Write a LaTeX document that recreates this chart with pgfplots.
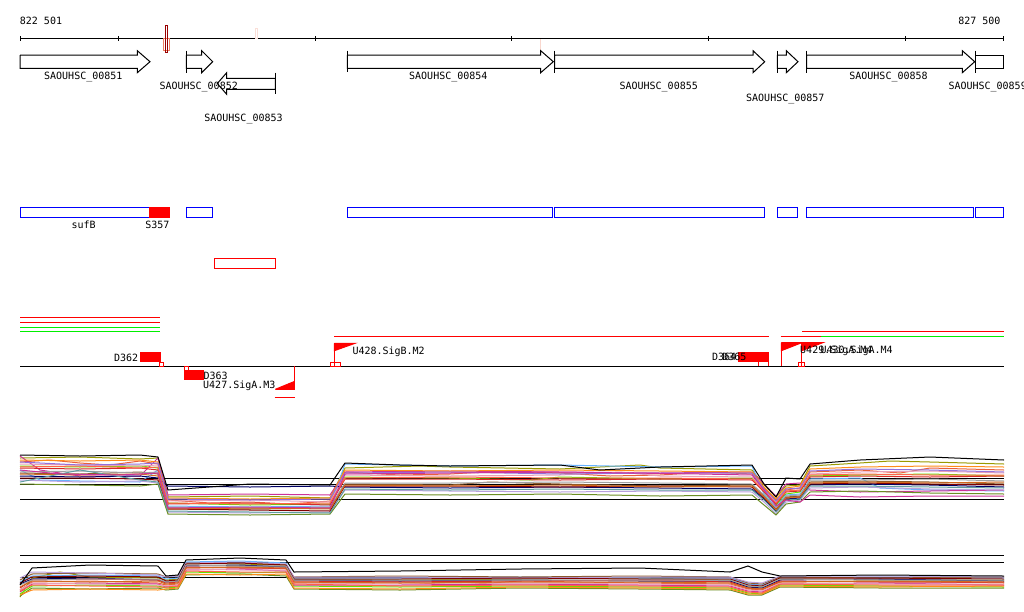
\documentclass[border=0pt]{standalone}
\usepackage{fontspec}
\setmainfont{DejaVu Sans Mono}
\usepackage{pgfplots}
\pgfplotsset{compat=1.18}
\definecolor{cA}{HTML}{E8603C}
\definecolor{cB}{HTML}{9A9A00}
\definecolor{cC}{HTML}{66E000}
\definecolor{cD}{HTML}{66B3FF}
\definecolor{cE}{HTML}{CC3399}
\definecolor{cF}{HTML}{8B5A2B}
\definecolor{cG}{HTML}{E8A0B8}
\definecolor{cH}{HTML}{000066}
\definecolor{cI}{HTML}{D42A2A}
\definecolor{cJ}{HTML}{B9A0DC}
\definecolor{cK}{HTML}{FF8C1A}
\definecolor{cL}{HTML}{A0A0A0}
\definecolor{cM}{HTML}{800000}
\definecolor{cN}{HTML}{D2691E}
\definecolor{cO}{HTML}{6B8E23}
\definecolor{cP}{HTML}{FF6347}
\definecolor{cQ}{HTML}{5F9EA0}
\definecolor{cR}{HTML}{9370DB}
\definecolor{featRed}{HTML}{FF0000}
\definecolor{featBlue}{HTML}{0000FF}
\definecolor{featGreen}{HTML}{00EE00}
\tikzset{lbl/.style={inner sep=0pt, font=\fontsize{10}{12}\selectfont}}

\begin{document}
\begin{tikzpicture}
\begin{axis}[
  at={(0,0)}, anchor=south west,
  width=1024pt, height=611pt, scale only axis,
  xmin=0, xmax=1024, ymin=0, ymax=611,
  y dir=reverse, hide axis, clip=false,
  every axis plot/.append style={line width=1pt, no markers},
  unbounded coords=jump,
]
% --- ruler ---
\addplot[black] coordinates {(20,38.3) (1004,38.3)};
\addplot[black] coordinates {(20.5,36)(20.5,41)(20,nan)(118.3,36)(118.3,41)(118,nan)(315,36)(315,41)(315,nan)
  (511.7,36)(511.7,41)(511,nan)(708.3,36)(708.3,41)(708,nan)(905.3,36)(905.3,41)(905,nan)(1003.5,36)(1003.5,41)};
\node[lbl, anchor=base west] at (axis cs:19.7,24.3) {822 501};
\node[lbl, anchor=base east] at (axis cs:1000.7,24.3) {827 500};
\addplot[color=cA!80, line width=1pt] coordinates {(163.3,38)(169.7,38)(169.7,50)(163.3,50)(163.3,38)};
\addplot[color=cM!80!red, line width=1pt] coordinates {(165.3,25)(167.3,25)(167.3,52)(165.3,52)(165.3,25)};
\addplot[color=cA!20, line width=1pt] coordinates {(255.5,28)(257.2,28)(257.2,38)(255.5,38)(255.5,28)};
\addplot[color=cA!25, line width=1.5pt] coordinates {(540.5,39)(540.5,50)};

% --- genes ---
\addplot[black, fill=white] coordinates {(20,55)(137.3,55)(137.3,50.7)(150,61.7)(137.3,72.7)(137.3,68.3)(20,68.3)(20,55)};
\addplot[black, fill=white] coordinates {(186.3,55)(201.7,55)(201.7,50.7)(212.7,61.7)(201.7,72.7)(201.7,68.3)(186.3,68.3)(186.3,55)};
\addplot[black, fill=white] coordinates {(275.3,78.3)(226.7,78.3)(226.7,72.7)(217.3,83.5)(226.7,94.3)(226.7,89.3)(275.3,89.3)(275.3,78.3)};
\addplot[black, fill=white] coordinates {(347.3,55)(540.7,55)(540.7,50.7)(553.3,61.7)(540.7,72.7)(540.7,68.3)(347.3,68.3)(347.3,55)};
\addplot[black, fill=white] coordinates {(554.7,55)(753,55)(753,50.7)(764.7,61.7)(753,72.7)(753,68.3)(554.7,68.3)(554.7,55)};
\addplot[black, fill=white] coordinates {(777.3,55)(786.3,55)(786.3,50.7)(798,61.7)(786.3,72.7)(786.3,68.3)(777.3,68.3)(777.3,55)};
\addplot[black, fill=white] coordinates {(806.7,55)(962.3,55)(962.3,50.7)(974.7,61.7)(962.3,72.7)(962.3,68.3)(806.7,68.3)(806.7,55)};
\addplot[black, fill=white] coordinates {(975.7,55)(1003.3,55)(1003.3,68.3)(975.7,68.3)(975.7,55)};
\addplot[black] coordinates {(186.3,50.7)(186.3,72.7)(186,nan)(275.3,72.7)(275.3,94.3)(275,nan)(347.3,50.7)(347.3,71.7)(347,nan)
  (554.7,50.7)(554.7,72.7)(554,nan)(777.3,50.7)(777.3,72.7)(777,nan)(806.7,50.7)(806.7,72.7)(806,nan)(975.7,50.7)(975.7,72.7)};
\node[lbl, anchor=base] at (axis cs:83.3,79.5) {SAOUHSC\_00851};
\node[lbl, anchor=base] at (axis cs:198.7,89.3) {SAOUHSC\_00852};
\node[lbl, anchor=base] at (axis cs:243.5,121.5) {SAOUHSC\_00853};
\node[lbl, anchor=base] at (axis cs:448.3,79.5) {SAOUHSC\_00854};
\node[lbl, anchor=base] at (axis cs:658.7,89.3) {SAOUHSC\_00855};
\node[lbl, anchor=base] at (axis cs:785.3,101.5) {SAOUHSC\_00857};
\node[lbl, anchor=base] at (axis cs:888.5,79.5) {SAOUHSC\_00858};
\node[lbl, anchor=base west] at (axis cs:948.3,89.3) {SAOUHSC\_00859};

% --- blue boxes ---
\addplot[featBlue] coordinates {(20.3,207.3)(149,207.3)(149,217.3)(20.3,217.3)(20.3,207.3)};
\addplot[featRed, fill=featRed] coordinates {(149,207.3)(169,207.3)(169,217.3)(149,217.3)(149,207.3)};
\addplot[featBlue] coordinates {(186.3,207.3)(212.7,207.3)(212.7,217.3)(186.3,217.3)(186.3,207.3)};
\addplot[featBlue] coordinates {(347.3,207.3)(552.6,207.3)(552.6,217.3)(347.3,217.3)(347.3,207.3)};
\addplot[featBlue] coordinates {(554.3,207.3)(764.5,207.3)(764.5,217.3)(554.3,217.3)(554.3,207.3)};
\addplot[featBlue] coordinates {(777.3,207.3)(797.3,207.3)(797.3,217.3)(777.3,217.3)(777.3,207.3)};
\addplot[featBlue] coordinates {(806.1,207.3)(973.4,207.3)(973.4,217.3)(806.1,217.3)(806.1,207.3)};
\addplot[featBlue] coordinates {(975.1,207.3)(1003.5,207.3)(1003.5,217.3)(975.1,217.3)(975.1,207.3)};
\node[lbl, anchor=base] at (axis cs:83.7,228) {sufB};
\node[lbl, anchor=base] at (axis cs:157.3,228) {S357};
\addplot[featRed] coordinates {(214.3,258.3)(275.3,258.3)(275.3,268)(214.3,268)(214.3,258.3)};

% --- coverage lines ---
\addplot[featRed] coordinates {(20,317)(160,317)};
\addplot[featRed] coordinates {(20,322)(160,322)};
\addplot[featGreen] coordinates {(20,327)(160,327)};
\addplot[featGreen] coordinates {(20,331.3)(160,331.3)};
\addplot[featRed] coordinates {(334,336)(769,336)};
\addplot[featRed] coordinates {(780.7,336)(820.7,336)};
\addplot[featGreen] coordinates {(820.7,336)(1004,336)};
\addplot[featRed] coordinates {(802,331.3)(1004,331.3)};

% --- promoters / terminators ---
\addplot[black] coordinates {(20,366.3)(1004,366.3)};
\addplot[featRed, fill=featRed] coordinates {(140,352.7)(160,352.7)(160,361.7)(140,361.7)(140,352.7)};
\addplot[featRed] coordinates {(159.3,362)(163.3,362)(163.3,366.3)(159.3,366.3)(159.3,362)};
\node[lbl, anchor=base east] at (axis cs:138.3,361) {D362};
\addplot[featRed, fill=featRed] coordinates {(184.3,370.7)(203.3,370.7)(203.3,379.3)(184.3,379.3)(184.3,370.7)};
\addplot[featRed] coordinates {(184.3,366.3)(188.7,366.3)(188.7,370.7)(184.3,370.7)(184.3,366.3)};
\node[lbl, anchor=base west] at (axis cs:203.3,379) {D363};
\node[lbl, anchor=base west] at (axis cs:203,388.5) {U427.SigA.M3};
\addplot[featRed] coordinates {(294.3,366.3)(294.3,389.3)};
\addplot[featRed, fill=featRed] coordinates {(275.3,389.3)(294.3,389.3)(294.3,381.5)(275.3,389.3)};
\addplot[featRed] coordinates {(274.7,397.3)(294.7,397.3)};
\addplot[featRed] coordinates {(334.3,343.3)(334.3,366.3)};
\addplot[featRed, fill=featRed] coordinates {(334.3,343.3)(355,343.3)(334.3,350.7)(334.3,343.3)};
\addplot[featRed] coordinates {(330.3,362.3)(340.7,362.3)(340.7,366.3)(330.3,366.3)(330.3,362.3)};
\node[lbl, anchor=base west] at (axis cs:352.3,354.3) {U428.SigB.M2};
\addplot[featRed, fill=featRed] coordinates {(738.3,352.7)(768.7,352.7)(768.7,361.7)(738.3,361.7)(738.3,352.7)};
\addplot[featRed] coordinates {(758.3,361.7)(758.3,366.3)(758,nan)(768.3,361.7)(768.3,366.3)};
\node[lbl, anchor=base east] at (axis cs:736.3,360.7) {D364};
\node[lbl, anchor=base east] at (axis cs:746.7,360.7) {D365};
\addplot[featRed] coordinates {(781.3,342.7)(781.3,366.3)};
\addplot[featRed, fill=featRed] coordinates {(781.3,342.7)(801.7,342.7)(781.3,350.7)(781.3,342.7)};
\addplot[featRed] coordinates {(801.7,342.7)(801.7,366.3)};
\addplot[featRed, fill=featRed] coordinates {(801.7,342.7)(822.7,342.7)(801.7,350.7)(801.7,342.7)};
\addplot[featRed] coordinates {(798.3,362.3)(804.3,362.3)(804.3,366.3)(798.3,366.3)(798.3,362.3)};
\node[lbl, anchor=base west] at (axis cs:800,353.5) {U429.SigA.M4};
\node[lbl, anchor=base west] at (axis cs:820.3,353.5) {U430.SigA.M4};

% --- expression track 1 ---
\addplot[black] coordinates {(20,478.3)(1004,478.3)};
\addplot[black] coordinates {(20,484.3)(1004,484.3)};
\addplot[black] coordinates {(20,499.3)(1004,499.3)};
\addplot[cA] coordinates {(20,462)(50,460)(80,463)(110,465)(140,461)(158,464)(168,500)(210,503)(250,502)(290,504)(330,501)(345,472)(400,475)(450,474)(500,471)(560,473)(610,476)(660,475)(710,472)(752,474)(764,488)(776,500)(786,490)(800,488)(810,472)(860,470)(900,473)(930,468)(1004,470)};
\addplot[cB] coordinates {(20,458)(80,457)(140,459)(158,458)(168,497)(250,496)(330,498)(345,468)(420,466)(450,467)(560,469)(640,465)(660,468)(752,470)(764,485)(776,497)(786,486)(800,485)(810,466)(860,463)(890,461)(930,462)(1004,464)};
\addplot[cC] coordinates {(20,466)(80,467)(140,466)(158,468)(168,503)(250,505)(330,504)(345,477)(450,478)(530,480)(560,477)(660,479)(752,478)(764,492)(776,505)(786,494)(800,492)(810,476)(860,475)(930,474)(1004,476)};
\addplot[cD] coordinates {(20,470)(40,480)(80,481)(140,482)(158,470)(168,506)(250,507)(330,506)(345,464)(450,466)(560,465)(660,467)(752,466)(764,494)(776,507)(786,495)(800,494)(810,479)(860,478)(880,488)(930,490)(1004,491)};
\addplot[cE] coordinates {(20,456)(40,470)(80,476)(140,476)(158,458)(168,495)(250,494)(330,495)(345,472)(450,471)(560,472)(660,473)(752,472)(764,484)(776,496)(786,484)(800,483)(810,490)(860,492)(930,491)(1004,490)};
\addplot[cF] coordinates {(20,473)(80,474)(140,472)(158,474)(168,508)(250,509)(330,508)(345,484)(450,485)(490,482)(560,484)(660,486)(752,485)(764,496)(776,509)(786,497)(800,496)(810,482)(860,481)(930,482)(1004,484)};
\addplot[cG] coordinates {(20,464)(80,465)(140,466)(158,465)(168,501)(250,500)(330,502)(345,475)(450,476)(560,475)(620,472)(660,476)(752,477)(764,490)(776,502)(786,491)(800,490)(810,474)(860,472)(930,471)(1004,473)};
\addplot[cH] coordinates {(20,476)(80,477)(140,476)(158,478)(168,486)(250,487)(330,486)(345,487)(450,488)(560,487)(660,488)(752,489)(764,499)(776,511)(786,499)(800,498)(810,485)(860,484)(930,485)(1004,487)};
\addplot[cI] coordinates {(20,468)(80,469)(140,468)(158,470)(168,504)(250,503)(330,505)(345,479)(450,479)(560,480)(660,479)(752,480)(764,492)(776,504)(786,492)(800,491)(810,477)(860,476)(930,477)(1004,476)};
\addplot[cJ] coordinates {(20,480)(80,482)(140,481)(158,483)(168,512)(250,513)(330,512)(345,490)(450,491)(560,492)(660,491)(752,492)(764,502)(776,514)(786,502)(800,500)(810,488)(860,487)(930,489)(1004,490)};
\addplot[cK] coordinates {(20,460)(80,461)(140,460)(158,462)(168,498)(250,499)(330,498)(345,470)(450,471)(560,470)(660,471)(752,472)(764,487)(776,499)(786,488)(800,486)(810,469)(860,467)(930,466)(1004,467)};
\addplot[cL] coordinates {(20,472)(80,471)(140,473)(158,472)(168,507)(250,508)(330,507)(345,483)(450,483)(560,482)(660,483)(752,484)(764,495)(776,508)(786,496)(800,495)(810,480)(860,480)(930,479)(1004,481)};
\addplot[cM] coordinates {(20,478)(80,478)(140,479)(158,480)(168,509)(250,510)(330,511)(345,486)(450,486)(560,487)(660,486)(752,487)(764,498)(776,510)(786,498)(800,497)(810,484)(860,483)(930,484)(1004,485)};
\addplot[cN] coordinates {(20,474)(80,475)(140,474)(158,476)(168,509)(250,508)(330,509)(345,485)(450,486)(560,485)(660,487)(752,486)(764,497)(776,510)(786,498)(800,497)(810,483)(860,482)(930,483)(1004,482)};
\addplot[cO] coordinates {(20,484)(80,485)(140,486)(158,484)(168,514)(250,515)(330,514)(345,494)(450,495)(560,494)(660,496)(752,495)(764,505)(776,515)(786,504)(800,502)(810,492)(860,491)(930,493)(1004,494)};
\addplot[cP] coordinates {(20,467)(80,466)(140,468)(158,467)(168,503)(250,504)(330,503)(345,478)(450,477)(560,478)(660,478)(752,479)(764,491)(776,503)(786,491)(800,490)(810,475)(860,474)(930,475)(1004,475)};
\addplot[cQ] coordinates {(20,482)(80,470)(140,480)(158,482)(168,511)(250,512)(330,513)(345,489)(450,490)(560,489)(660,490)(752,490)(764,500)(776,512)(786,500)(800,499)(810,486)(860,486)(930,487)(1004,488)};
\addplot[cR] coordinates {(20,462)(80,465)(140,464)(158,463)(168,499)(250,500)(330,499)(345,473)(450,472)(560,474)(660,473)(752,473)(764,489)(776,501)(786,489)(800,488)(810,471)(860,469)(930,470)(1004,472)};
\addplot[cE] coordinates {(20,470)(60,474)(120,475)(158,473)(168,508)(250,507)(330,508)(345,474)(450,473)(560,472)(700,474)(752,475)(764,490)(776,506)(786,500)(800,502)(810,495)(860,497)(930,496)(1004,496)};
\addplot[black] coordinates {(20,455)(80,456)(140,455)(158,457)(168,490)(250,484)(330,485)(345,463)(400,465)(450,466)(560,465)(600,470)(660,467)(752,465)(764,484)(776,497)(786,478)(800,479)(810,464)(860,460)(930,457)(1004,460)};

% --- expression track 2 ---
\addplot[black] coordinates {(20,555.3)(1004,555.3)};
\addplot[black] coordinates {(20,562.3)(1004,562.3)};
\addplot[black] coordinates {(20,577.3)(1004,577.3)};
\addplot[cA] coordinates {(20,590)(32,582)(90,581)(158,583)(166,585)(178,584)(186,568)(240,567)(286,569)(294,583)(400,582)(460,585)(520,581)(640,583)(730,584)(748,589)(762,590)(780,582)(880,581)(1004,583)};
\addplot[cB] coordinates {(20,597)(32,578)(60,572)(90,577)(158,578)(166,580)(178,579)(186,563)(240,564)(286,565)(294,579)(400,580)(520,579)(640,578)(730,580)(748,586)(762,587)(780,579)(880,580)(1004,580)};
\addplot[cC] coordinates {(20,594)(32,586)(90,585)(158,586)(166,588)(178,587)(186,572)(240,573)(286,572)(294,586)(400,587)(520,586)(640,587)(730,588)(748,593)(762,594)(780,585)(880,586)(1004,587)};
\addplot[cD] coordinates {(20,582)(32,576)(90,575)(158,576)(166,579)(178,578)(186,562)(240,561)(286,563)(294,578)(400,578)(520,577)(640,578)(730,578)(748,584)(762,585)(780,578)(880,577)(1004,578)};
\addplot[cE] coordinates {(20,592)(32,584)(90,583)(158,584)(166,587)(178,586)(186,570)(240,569)(286,571)(294,585)(400,585)(520,584)(640,585)(730,586)(748,591)(762,592)(780,584)(880,583)(1004,585)};
\addplot[cF] coordinates {(20,580)(32,574)(90,573)(158,574)(166,577)(178,576)(186,565)(240,566)(286,566)(294,577)(400,576)(520,577)(640,576)(730,577)(748,583)(762,584)(780,577)(880,578)(1004,577)};
\addplot[cO] coordinates {(20,596)(32,588)(90,589)(158,588)(166,590)(178,589)(186,575)(240,574)(286,576)(294,589)(400,590)(520,588)(640,589)(730,590)(748,595)(762,595)(780,587)(880,588)(1004,588)};
\addplot[cH] coordinates {(20,584)(32,579)(90,578)(158,580)(166,582)(178,581)(186,566)(240,565)(286,567)(294,580)(400,581)(520,580)(640,581)(730,581)(748,587)(762,588)(780,580)(880,579)(1004,581)};
\addplot[cI] coordinates {(20,588)(32,580)(90,579)(158,580)(166,583)(178,582)(186,567)(240,568)(286,568)(294,581)(400,582)(520,581)(640,580)(730,582)(748,588)(762,589)(780,581)(880,582)(1004,582)};
\addplot[cG] coordinates {(20,590)(32,583)(90,584)(158,585)(166,586)(178,585)(186,569)(240,570)(286,570)(294,584)(400,583)(520,583)(640,584)(730,585)(748,590)(762,591)(780,583)(880,584)(1004,584)};
\addplot[cJ] coordinates {(20,578)(32,572)(90,573)(158,575)(166,577)(178,576)(186,563)(240,562)(286,564)(294,577)(400,577)(520,578)(640,577)(730,577)(748,582)(762,583)(780,576)(880,576)(1004,577)};
\addplot[cK] coordinates {(20,595)(32,590)(90,589)(158,590)(166,589)(178,588)(186,574)(240,575)(286,574)(294,588)(400,589)(520,587)(640,588)(730,589)(748,594)(762,594)(780,586)(880,587)(1004,586)};
\addplot[cM] coordinates {(20,583)(32,577)(90,576)(158,577)(166,581)(178,580)(186,564)(240,563)(286,565)(294,579)(400,579)(520,578)(640,579)(730,579)(748,585)(762,586)(780,578)(880,578)(1004,579)};
\addplot[cN] coordinates {(20,587)(32,581)(90,582)(158,581)(166,584)(178,583)(186,568)(240,567)(286,568)(294,582)(400,583)(520,582)(640,582)(730,583)(748,588)(762,589)(780,582)(880,581)(1004,582)};
\addplot[cP] coordinates {(20,591)(32,585)(90,586)(158,587)(166,587)(178,586)(186,571)(240,572)(286,572)(294,584)(400,586)(520,585)(640,586)(730,587)(748,592)(762,593)(780,584)(880,585)(1004,585)};
\addplot[cL] coordinates {(20,585)(32,580)(90,579)(158,579)(166,582)(178,581)(186,565)(240,566)(286,566)(294,580)(400,580)(520,580)(640,580)(730,580)(748,586)(762,587)(780,579)(880,580)(1004,580)};
\addplot[black] coordinates {(20,585)(32,568)(90,565)(158,566)(166,576)(178,575)(186,560)(240,558)(286,560)(294,572)(400,571)(520,569)(640,568)(730,572)(748,566)(762,572)(780,576)(880,575)(1004,576)};
\end{axis}
\pgfresetboundingbox
\path[use as bounding box] (0,0) rectangle (1024pt,611pt);
\end{tikzpicture}
\end{document}
